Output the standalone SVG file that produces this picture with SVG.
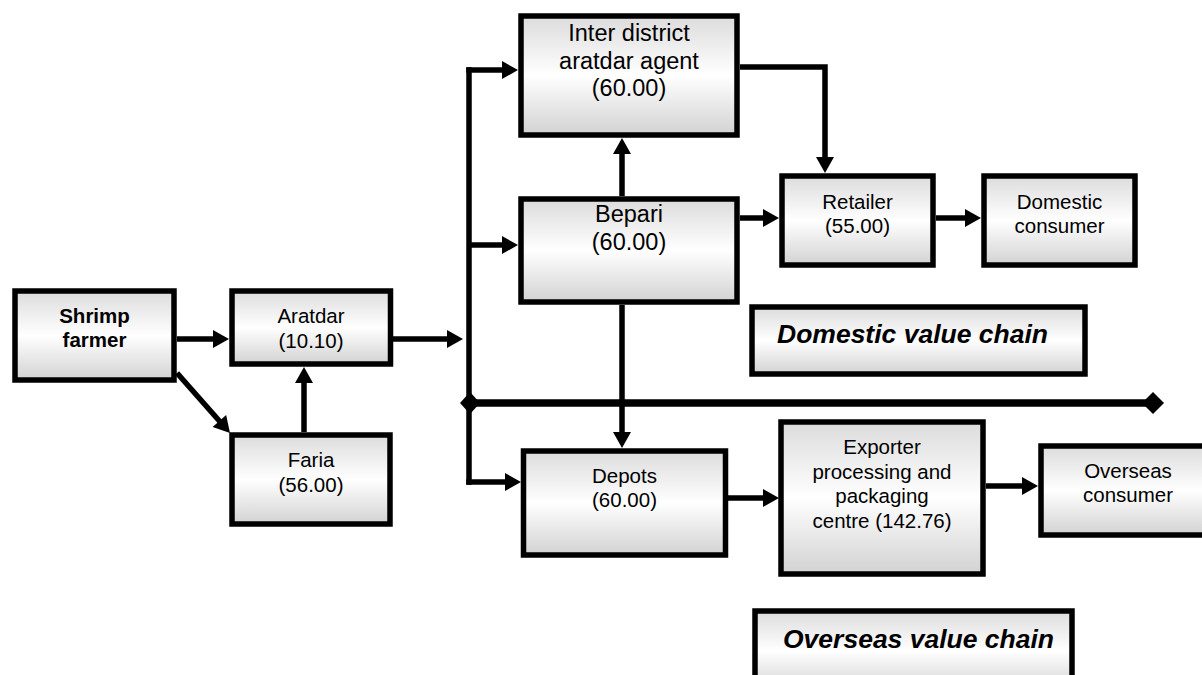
<svg xmlns="http://www.w3.org/2000/svg" width="1202" height="675" viewBox="0 0 1202 675">
<style>
.box{fill:url(#g);stroke:#000;stroke-width:5.5}
.t{font-family:"Liberation Sans",Arial,sans-serif;font-size:20.5px;fill:#000;text-anchor:middle}
.tl{font-size:23.5px}
.b{font-weight:bold}
.h{font-family:"Liberation Sans",Arial,sans-serif;font-size:26.5px;font-weight:bold;font-style:italic;fill:#000}
.c{fill:none;stroke:#000;stroke-width:5.5}
.ca{marker-end:url(#arr)}
</style>
<defs>
<linearGradient id="g" x1="0" y1="0" x2="0" y2="1">
<stop offset="0" stop-color="#dcdcdc"/>
<stop offset="0.5" stop-color="#ffffff"/>
<stop offset="1" stop-color="#d2d2d2"/>
</linearGradient>
<marker id="arr" markerUnits="userSpaceOnUse" markerWidth="17" markerHeight="19" refX="8" refY="9" orient="auto" overflow="visible">
<path d="M0,0 L16,9 L0,18 Z" fill="#000"/>
</marker>
</defs>
<g id="connectors">
<path class="c ca" d="M177,339 H221"/>
<path class="c ca" d="M177,373 L224.7,427"/>
<path class="c ca" d="M304,432 V375"/>
<path class="c ca" d="M393,339 H455"/>
<path class="c" d="M469,67.25 V484.75"/>
<path class="c ca" d="M466.25,70 H510"/>
<path class="c ca" d="M469,245 H510"/>
<path class="c ca" d="M466.25,482 H513"/>
<path class="c ca" d="M622,196 V146"/>
<path class="c ca" d="M622,305 V440"/>
<path class="c ca" d="M740,67 H825 V165"/>
<path class="c ca" d="M740,218 H771"/>
<path class="c ca" d="M936,218 H973"/>
<path class="c ca" d="M728,498 H771"/>
<path class="c ca" d="M986,486 H1030"/>
<path fill="none" stroke="#000" stroke-width="7.5" d="M469,403 H1153"/>
<polygon points="460,403 470,392 480,403 470,414" fill="#000"/>
<polygon points="1142,403 1153,392 1164,403 1153,414" fill="#000"/>
</g>
<g id="shrimp-farmer">
<rect class="box" x="15" y="291" width="159" height="89"/>
<text class="t b" x="94.5" y="323">Shrimp</text>
<text class="t b" x="94.5" y="347">farmer</text>
</g>
<g id="aratdar">
<rect class="box" x="232" y="291" width="158.5" height="73"/>
<text class="t" x="311" y="323">Aratdar</text>
<text class="t" x="311" y="348">(10.10)</text>
</g>
<g id="faria">
<rect class="box" x="232" y="435" width="158" height="89"/>
<text class="t" x="311" y="467">Faria</text>
<text class="t" x="311" y="492">(56.00)</text>
</g>
<g id="inter-district">
<rect class="box" x="521" y="16" width="216" height="119"/>
<text class="t tl" x="629" y="41">Inter district</text>
<text class="t tl" x="629" y="68.5">aratdar agent</text>
<text class="t tl" x="629" y="96">(60.00)</text>
</g>
<g id="bepari">
<rect class="box" x="521" y="199" width="216" height="103"/>
<text class="t tl" x="629" y="222">Bepari</text>
<text class="t tl" x="629" y="250">(60.00)</text>
</g>
<g id="retailer">
<rect class="box" x="782" y="176" width="151" height="89"/>
<text class="t" x="857.5" y="209">Retailer</text>
<text class="t" x="857.5" y="233">(55.00)</text>
</g>
<g id="domestic-consumer">
<rect class="box" x="984" y="176" width="151" height="89"/>
<text class="t" x="1059.5" y="209">Domestic</text>
<text class="t" x="1059.5" y="233">consumer</text>
</g>
<g id="domestic-value-chain">
<rect class="box" x="752" y="307" width="333" height="67"/>
<text class="h" x="777" y="343">Domestic value chain</text>
</g>
<g id="depots">
<rect class="box" x="523.5" y="451" width="202" height="104"/>
<text class="t" x="624.5" y="483">Depots</text>
<text class="t" x="624.5" y="507">(60.00)</text>
</g>
<g id="exporter">
<rect class="box" x="781" y="422" width="202" height="152"/>
<text class="t" x="882" y="454">Exporter</text>
<text class="t" x="882" y="479">processing and</text>
<text class="t" x="882" y="503">packaging</text>
<text class="t" x="882" y="528">centre (142.76)</text>
</g>
<g id="overseas-consumer">
<rect class="box" x="1041" y="446" width="170" height="89"/>
<text class="t" x="1128" y="478">Overseas</text>
<text class="t" x="1128" y="502">consumer</text>
</g>
<g id="overseas-value-chain">
<rect class="box" x="755" y="611" width="317" height="80"/>
<text class="h" x="783" y="648">Overseas value chain</text>
</g>
</svg>
